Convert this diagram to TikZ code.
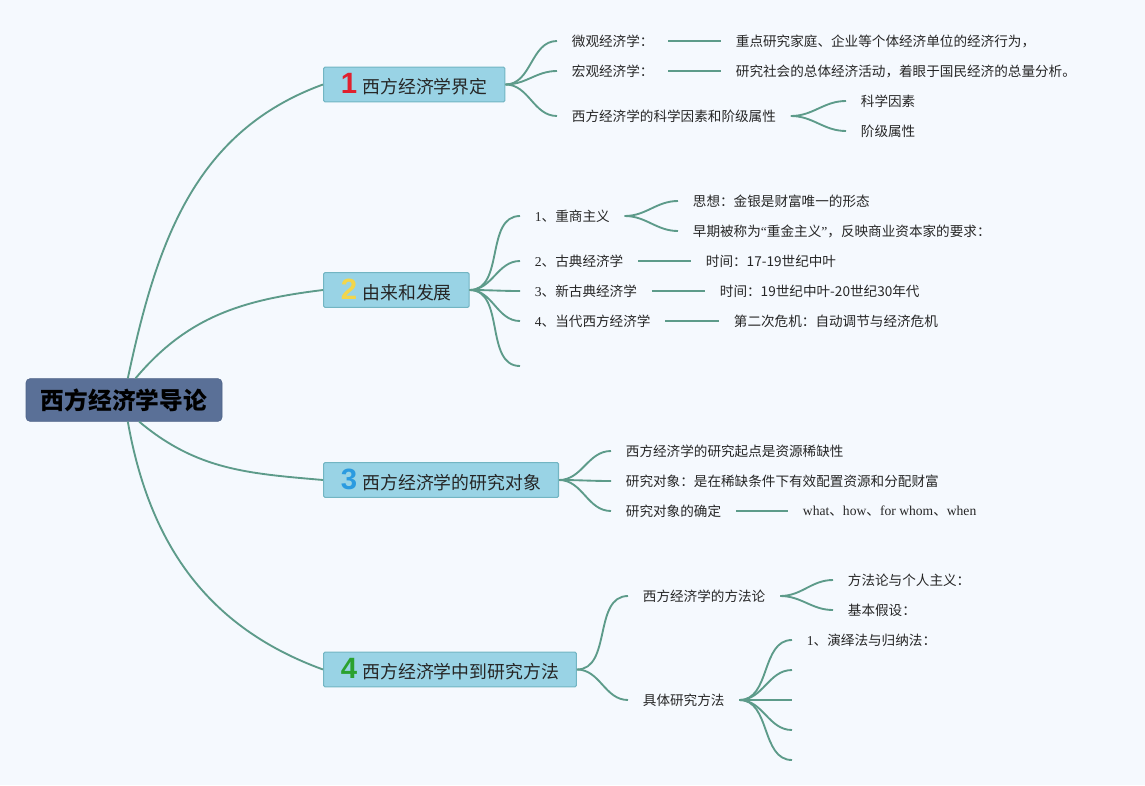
\documentclass[tikz,border=0pt]{standalone}
\usepackage{fontspec}
\setmainfont{Noto Sans CJK SC}
\newfontfamily\numfont{Liberation Sans}
\newfontfamily\latinfont{Liberation Serif}

\definecolor{bg}{HTML}{F5F9FE}
\definecolor{linkcol}{HTML}{5D9B8A}
\definecolor{topicfill}{HTML}{99D3E5}
\definecolor{topicdraw}{HTML}{72B5C3}
\definecolor{rootfill}{HTML}{5A7097}
\definecolor{rootdraw}{HTML}{4E6388}
\definecolor{numred}{HTML}{E0202E}
\definecolor{numyellow}{HTML}{F3D64A}
\definecolor{numblue}{HTML}{2B9BE0}
\definecolor{numgreen}{HTML}{2AA12E}
\definecolor{txt}{HTML}{262626}

\newcommand\topicnum[2]{{\numfont\bfseries\fontsize{22}{22}\selectfont\color{#1}#2}\hspace{4pt}}

\begin{document}
\begin{tikzpicture}[x=0.75pt, y=-0.75pt,
    link/.style={draw=linkcol, line width=1.4pt},
    root/.style={fill=rootfill, draw=rootdraw, rounded corners=3pt, minimum width=147pt, minimum height=32pt, inner sep=0pt, font=\fontsize{17.8}{20}\selectfont\bfseries, text=black},
    topic/.style={fill=topicfill, draw=topicdraw, line width=0.8pt, rounded corners=1pt, anchor=west, minimum height=26pt, inner xsep=13pt, inner ysep=0pt, font=\fontsize{13.4}{16}\selectfont, text=txt},
    leaf/.style={anchor=west, inner xsep=11pt, inner ysep=2pt, font=\fontsize{10.2}{12}\selectfont, text=txt}]

    \useasboundingbox (0,0) rectangle (1145,785);
    \fill [bg] (0,0) rectangle (1145,785);

    \node [root] (root) at (124,400) {西方经济学导论};

    \node [topic] (t1) at (323,84.5) {\topicnum{numred}{1}西方经济学界定};
    \node [topic] (t2) at (323,290) {\topicnum{numyellow}{2}由来和发展};
    \node [topic] (t3) at (323,480) {\topicnum{numblue}{3}西方经济学的研究对象};
    \node [topic] (t4) at (323,669.5) {\topicnum{numgreen}{4}西方经济学中到研究方法};

    \draw [link] (root.80) to [out=78, in=200] (t1.west);
    \draw [link] (root.62) to [out=50, in=187] (t2.west);
    \draw [link] (root.-55) to [out=-40, in=175] (t3.west);
    \draw [link] (root.-80) to [out=-80, in=160] (t4.west);

    \node [leaf] (a1) at (557,41) {微观经济学：};
    \node [leaf] (a1d) at (721,41) {重点研究家庭、企业等个体经济单位的经济行为，};
    \node [leaf] (a2) at (557,71) {宏观经济学：};
    \node [leaf] (a2d) at (721,71) {研究社会的总体经济活动，着眼于国民经济的总量分析。};
    \node [leaf] (a3) at (557,116) {西方经济学的科学因素和阶级属性};
    \node [leaf] (a3a) at (846,101) {科学因素};
    \node [leaf] (a3b) at (846,131) {阶级属性};

    \draw [link] (t1.east) to [out=0, in=180] (a1.west);
    \draw [link] (t1.east) to [out=0, in=180] (a2.west);
    \draw [link] (t1.east) to [out=0, in=180] (a3.west);
    \draw [link] (a1.east) -- (a1d.west);
    \draw [link] (a2.east) -- (a2d.west);
    \draw [link] (a3.east) to [out=0, in=180] (a3a.west);
    \draw [link] (a3.east) to [out=0, in=180] (a3b.west);

    \node [leaf] (b1) at (520,216) {{\latinfont 1}、重商主义};
    \node [leaf] (b1a) at (678,201) {思想：金银是财富唯一的形态};
    \node [leaf] (b1b) at (678,231) {早期被称为{\latinfont “}重金主义{\latinfont ”}，反映商业资本家的要求：};
    \node [leaf] (b2) at (520,261) {{\latinfont 2}、古典经济学};
    \node [leaf] (b2d) at (691,261) {时间：17-19世纪中叶};
    \node [leaf] (b3) at (520,291) {{\latinfont 3}、新古典经济学};
    \node [leaf] (b3d) at (705,291) {时间：19世纪中叶-20世纪30年代};
    \node [leaf] (b4) at (520,321) {{\latinfont 4}、当代西方经济学};
    \node [leaf] (b4d) at (719,321) {第二次危机：自动调节与经济危机};
    \coordinate (b5) at (520,366);

    \draw [link] (t2.east) to [out=0, in=180] (b1.west);
    \draw [link] (t2.east) to [out=0, in=180] (b2.west);
    \draw [link] (t2.east) to [out=0, in=180] (b3.west);
    \draw [link] (t2.east) to [out=0, in=180] (b4.west);
    \draw [link] (t2.east) to [out=0, in=180] (b5);
    \draw [link] (b1.east) to [out=0, in=180] (b1a.west);
    \draw [link] (b1.east) to [out=0, in=180] (b1b.west);
    \draw [link] (b2.east) -- (b2d.west);
    \draw [link] (b3.east) -- (b3d.west);
    \draw [link] (b4.east) -- (b4d.west);

    \node [leaf] (c1) at (611,451) {西方经济学的研究起点是资源稀缺性};
    \node [leaf] (c2) at (611,481) {研究对象：是在稀缺条件下有效配置资源和分配财富};
    \node [leaf] (c3) at (611,511) {研究对象的确定};
    \node [leaf] (c3d) at (788,511) {{\latinfont what}、{\latinfont how}、{\latinfont for whom}、{\latinfont when}};

    \draw [link] (t3.east) to [out=0, in=180] (c1.west);
    \draw [link] (t3.east) to [out=0, in=180] (c2.west);
    \draw [link] (t3.east) to [out=0, in=180] (c3.west);
    \draw [link] (c3.east) -- (c3d.west);

    \node [leaf] (d1) at (628,596) {西方经济学的方法论};
    \node [leaf] (d1a) at (833,580) {方法论与个人主义：};
    \node [leaf] (d1b) at (833,610) {基本假设：};
    \node [leaf] (d2) at (628,700) {具体研究方法};
    \node [leaf] (d2a) at (792,640) {{\latinfont 1}、演绎法与归纳法：};
    \coordinate (d2b) at (792,670);
    \coordinate (d2c) at (792,700);
    \coordinate (d2d) at (792,730);
    \coordinate (d2e) at (792,760);

    \draw [link] (t4.east) to [out=0, in=180] (d1.west);
    \draw [link] (t4.east) to [out=0, in=180] (d2.west);
    \draw [link] (d1.east) to [out=0, in=180] (d1a.west);
    \draw [link] (d1.east) to [out=0, in=180] (d1b.west);
    \draw [link] (d2.east) to [out=0, in=180] (d2a.west);
    \draw [link] (d2.east) to [out=0, in=180] (d2b);
    \draw [link] (d2.east) to [out=0, in=180] (d2c);
    \draw [link] (d2.east) to [out=0, in=180] (d2d);
    \draw [link] (d2.east) to [out=0, in=180] (d2e);

\end{tikzpicture}
\end{document}
